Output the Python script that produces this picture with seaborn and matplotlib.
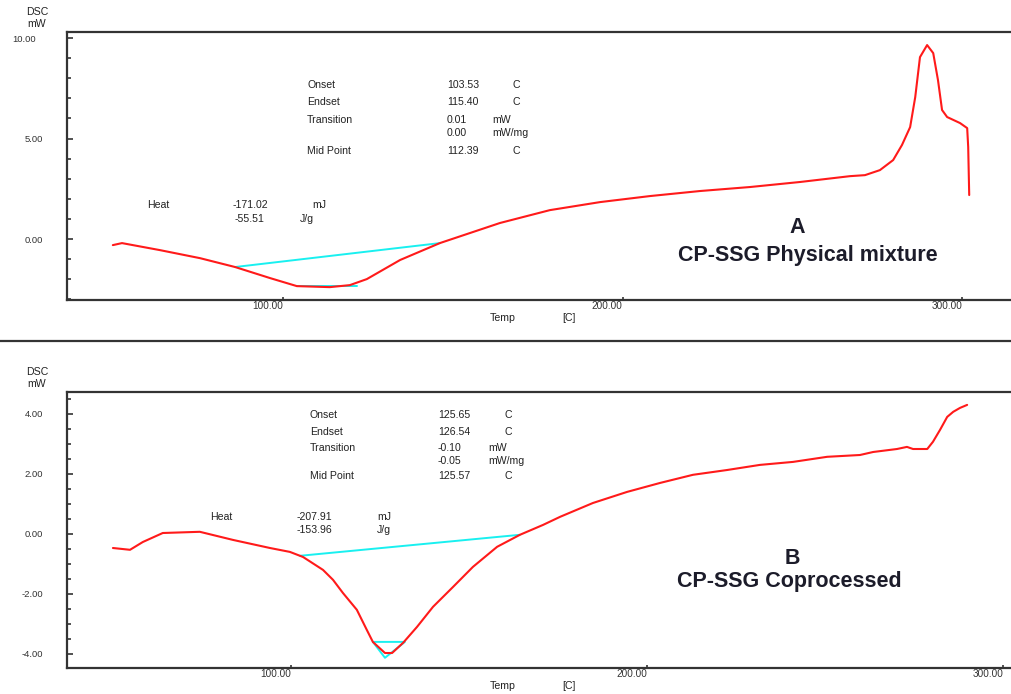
import matplotlib
matplotlib.use("Agg")
import matplotlib.pyplot as plt
import matplotlib.transforms as mtransforms
from matplotlib.ticker import MultipleLocator, FixedLocator
from matplotlib.lines import Line2D
import seaborn as sns

# Curve A: CP-SSG physical mixture
top_temp = [49.9, 52.6, 63.8, 75.6, 85.9, 96.2, 104.1, 113.8, 119.7, 124.7, 134.5,
            146.2, 163.9, 178.6, 193.4, 208.1, 222.8, 237.6, 252.3, 267.0, 271.4,
            275.8, 279.7, 282.3, 284.7, 286.2, 287.6, 289.7, 291.5, 292.9, 294.1,
            295.6, 299.4, 301.5, 301.8, 302.1]
top_dsc = [-0.30, -0.20, -0.55, -0.95, -1.39, -1.94, -2.34, -2.39, -2.29, -1.99, -1.04,
           -0.20, 0.80, 1.44, 1.84, 2.14, 2.39, 2.59, 2.84, 3.13, 3.18,
           3.43, 3.93, 4.68, 5.57, 7.06, 9.05, 9.65, 9.25, 7.91, 6.42,
           6.07, 5.77, 5.52, 4.58, 2.19]
top_base_temp = [85.9, 146.2]
top_base_dsc = [-1.39, -0.20]
top_peak_temp = [104.1, 121.8]
top_peak_dsc = [-2.34, -2.34]

# Curve B: CP-SSG coprocessed
bot_temp = [50.0, 54.8, 58.4, 64.0, 74.4, 83.7, 94.1, 99.7, 103.4, 109.0, 111.8,
            114.6, 118.5, 121.3, 123.0, 126.4, 128.4, 131.5, 135.4, 139.9, 145.5,
            151.1, 157.9, 164.3, 170.8, 175.6, 184.8, 194.4, 203.7, 212.9, 222.5,
            231.7, 241.0, 250.6, 259.8, 263.5, 270.2, 273.0, 274.7, 278.7, 280.3,
            282.3, 284.3, 286.0, 287.9, 289.9]
bot_dsc = [-0.47, -0.53, -0.27, 0.03, 0.07, -0.20, -0.47, -0.60, -0.77, -1.20, -1.53,
           -1.97, -2.53, -3.20, -3.60, -3.97, -3.97, -3.63, -3.10, -2.43, -1.77,
           -1.10, -0.43, -0.03, 0.30, 0.57, 1.03, 1.40, 1.70, 1.97, 2.13,
           2.30, 2.40, 2.57, 2.63, 2.73, 2.83, 2.90, 2.83, 2.83, 3.07,
           3.47, 3.90, 4.07, 4.20, 4.30]
bot_base_temp = [102.5, 164.3]
bot_base_dsc = [-0.73, -0.03]
bot_peak_temp = [123.0, 126.4, 132.0, 123.0]
bot_peak_dsc = [-3.60, -4.13, -3.60, -3.60]

# result tables
param_names = ["Onset", "Endset", "Transition", "", "Mid Point"]
param_units = ["C", "C", "mW", "mW/mg", "C"]
top_values = ["103.53", "115.40", "0.01", "0.00", "112.39"]
bot_values = ["125.65", "126.54", "-0.10", "-0.05", "125.57"]
heat_units = ["mJ", "J/g"]
top_heat = ["-171.02", "-55.51"]
bot_heat = ["-207.91", "-153.96"]

x_ticks = [100, 200, 300]
x_tick_labels = ["100.00", "200.00", "300.00"]

sns.set_style("ticks")
plt.rcParams["font.family"] = ["Liberation Sans", "DejaVu Sans"]

W, H = 1012, 694
P = 72 / 100  # points per pixel
fig = plt.figure(figsize=(W / 100, H / 100), dpi=100)


def px(x, y):
    return x / W, 1 - y / H


def axes_box(left, top, bottom):
    return [left / W, 1 - bottom / H, 1 - left / W, (bottom - top) / H]


ax1 = fig.add_axes(axes_box(67, 32, 300))
ax2 = fig.add_axes(axes_box(67, 392, 668))

red = "#ff1a1a"
cyan = "#19f0f0"
ink = "#222222"

for ax, t, d, bt, bd, pt, pd_ in [
    (ax1, top_temp, top_dsc, top_base_temp, top_base_dsc, top_peak_temp, top_peak_dsc),
    (ax2, bot_temp, bot_dsc, bot_base_temp, bot_base_dsc, bot_peak_temp, bot_peak_dsc),
]:
    sns.lineplot(x=bt, y=bd, ax=ax, color=cyan, lw=1.4, sort=False, estimator=None)
    sns.lineplot(x=pt, y=pd_, ax=ax, color=cyan, lw=1.4, sort=False, estimator=None)
    sns.lineplot(x=t, y=d, ax=ax, color=red, lw=1.5, sort=False, estimator=None)
    ax.set_xlabel("")
    ax.set_ylabel("")
    ax.spines["right"].set_visible(False)
    for s in ["left", "top", "bottom"]:
        ax.spines[s].set_color("#333333")
        ax.spines[s].set_linewidth(1.6)
    ax.xaxis.set_major_locator(FixedLocator(x_ticks))
    ax.set_xticklabels(x_tick_labels, ha="right")
    ax.tick_params(axis="x", direction="in", length=3 * P, width=1.2, pad=1,
                   labelsize=7.2, colors="#333333")
    ax.tick_params(axis="y", which="major", direction="in", length=6 * P, width=1.2,
                   pad=24 * P, labelsize=6.8, colors="#333333")
    ax.tick_params(axis="y", which="minor", direction="in", length=3.5 * P, width=1.2,
                   colors="#333333")

ax1.set_xlim(36.4, 314.7)
ax1.set_ylim(-3.03, 10.30)
ax1.yaxis.set_major_locator(FixedLocator([0, 5, 10]))
ax1.yaxis.set_minor_locator(MultipleLocator(1))
ax1.set_yticklabels(["0.00", "5.00", "10.00"])
# the 10.00 label sits a little further left in the original
lab10 = ax1.get_yticklabels()[-1]
lab10.set_transform(lab10.get_transform()
                    + mtransforms.ScaledTranslation(-7 / 100, 0, fig.dpi_scale_trans))

ax2.set_xlim(37.1, 302.5)
ax2.set_ylim(-4.47, 4.73)
ax2.yaxis.set_major_locator(FixedLocator([-4, -2, 0, 2, 4]))
ax2.yaxis.set_minor_locator(MultipleLocator(0.5))
ax2.set_yticklabels(["-4.00", "-2.00", "0.00", "2.00", "4.00"])

small = dict(fontsize=7.6, color=ink, va="center", ha="left", transform=fig.transFigure)

# axis captions
for y0 in [12, 372]:
    fig.text(*px(37, y0), "DSC", **{**small, "ha": "center"})
    fig.text(*px(37, y0 + 12), "mW", **{**small, "ha": "center"})
for y0 in [318, 686]:
    fig.text(*px(490, y0), "Temp", **small)
    fig.text(*px(562, y0), "[C]", **small)

# separator between panels
fig.add_artist(Line2D([0, 1], [1 - 341 / H, 1 - 341 / H], color="#333333", lw=1.6,
                      transform=fig.transFigure))

# result tables
top_rows = [85, 102, 120, 133, 151]
bot_rows = [415, 432, 448, 461, 476]
for rows, vals, xn, xv, xc, xm in [(top_rows, top_values, 307, 447, 513, 492),
                                   (bot_rows, bot_values, 310, 438, 505, 488)]:
    for y0, name, val, unit in zip(rows, param_names, vals, param_units):
        fig.text(*px(xn, y0), name, **small)
        fig.text(*px(xv, y0), val, **small)
        fig.text(*px(xc if unit == "C" else xm, y0), unit, **small)

fig.text(*px(147, 205), "Heat", **small)
fig.text(*px(233, 205), top_heat[0], **small)
fig.text(*px(235, 219), top_heat[1], **small)
fig.text(*px(312, 205), heat_units[0], **small)
fig.text(*px(300, 219), heat_units[1], **small)

fig.text(*px(210, 517), "Heat", **small)
fig.text(*px(297, 517), bot_heat[0], **small)
fig.text(*px(297, 530), bot_heat[1], **small)
fig.text(*px(377, 517), heat_units[0], **small)
fig.text(*px(377, 530), heat_units[1], **small)

big = dict(fontsize=15.5, fontweight="bold", color="#1c1c2a", ha="center", va="center",
           transform=fig.transFigure)
fig.text(*px(797, 227), "A", **big)
fig.text(*px(808, 256), "CP-SSG Physical mixture", **big)
fig.text(*px(792, 558), "B", **big)
fig.text(*px(789, 582), "CP-SSG Coprocessed", **big)

fig.savefig("out.png", dpi=100)
